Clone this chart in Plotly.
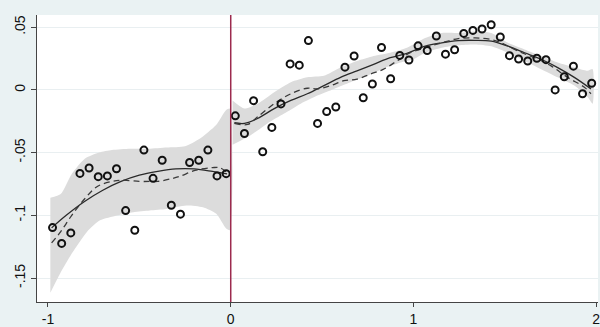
import plotly.graph_objects as go

# Binned means, left of the cutoff
left_x = [-0.975, -0.925, -0.875, -0.825, -0.775, -0.725, -0.675, -0.625, -0.575, -0.525,
          -0.475, -0.425, -0.375, -0.325, -0.275, -0.225, -0.175, -0.125, -0.075, -0.025]
left_y = [-0.1098, -0.1224, -0.1140, -0.0666, -0.0623, -0.0692, -0.0686, -0.0629, -0.0962, -0.1119,
          -0.0480, -0.0705, -0.0561, -0.0920, -0.0991, -0.0579, -0.0561, -0.0480, -0.0686, -0.0668]

# Binned means, right of the cutoff
right_x = [0.025, 0.075, 0.125, 0.175, 0.225, 0.275, 0.325, 0.375, 0.425, 0.475,
           0.525, 0.575, 0.625, 0.675, 0.725, 0.775, 0.825, 0.875, 0.925, 0.975,
           1.025, 1.075, 1.125, 1.175, 1.225, 1.275, 1.325, 1.375, 1.425, 1.475,
           1.525, 1.575, 1.625, 1.675, 1.725, 1.775, 1.825, 1.875, 1.925, 1.975]
right_y = [-0.0207, -0.0348, -0.0086, -0.0493, -0.0299, -0.0112, 0.0207, 0.0197, 0.0393, -0.0267,
           -0.0173, -0.0136, 0.0181, 0.0270, -0.0063, 0.0047, 0.0338, 0.0089, 0.0275, 0.0238,
           0.0351, 0.0314, 0.0430, 0.0285, 0.0320, 0.0450, 0.0474, 0.0485, 0.0519, 0.0422,
           0.0273, 0.0246, 0.0230, 0.0252, 0.0241, 0.0000, 0.0105, 0.0189, -0.0031, 0.0053]

# Polynomial fit (solid)
poly_left_x = [-0.98, -0.9, -0.8, -0.7, -0.6, -0.5, -0.4, -0.3, -0.2, -0.1, -0.02]
poly_left_y = [-0.110, -0.100, -0.089, -0.080, -0.073, -0.068, -0.065, -0.063, -0.063, -0.065, -0.067]
poly_right_x = [0.02, 0.075, 0.147, 0.238, 0.329, 0.419, 0.510, 0.601, 0.691, 0.782, 0.873, 0.964,
                1.064, 1.154, 1.245, 1.336, 1.426, 1.517, 1.608, 1.698, 1.789, 1.880, 1.971]
poly_right_y = [-0.0262, -0.0267, -0.0228, -0.0149, -0.0084, -0.0031, 0.0034, 0.0100, 0.0152, 0.0204,
                0.0257, 0.0291, 0.0348, 0.0375, 0.0393, 0.0395, 0.0388, 0.0348, 0.0296, 0.0244,
                0.0178, 0.0100, 0.0008]

# Local fit (dashed)
local_left_x = [-0.98, -0.93, -0.87, -0.8, -0.73, -0.65, -0.59, -0.5, -0.44, -0.4, -0.33, -0.28,
                -0.19, -0.1, -0.06, -0.02]
local_left_y = [-0.122, -0.113, -0.100, -0.087, -0.077, -0.073, -0.072, -0.073, -0.073, -0.073,
                -0.071, -0.069, -0.064, -0.062, -0.062, -0.066]
local_right_x = [0.02, 0.093, 0.147, 0.238, 0.329, 0.419, 0.474, 0.547, 0.619, 0.691, 0.764, 0.837,
                 0.909, 0.982, 1.064, 1.154, 1.245, 1.336, 1.426, 1.481, 1.572, 1.662, 1.753,
                 1.843, 1.935, 1.971]
local_right_y = [-0.0267, -0.0275, -0.0215, -0.0110, -0.0031, 0.0013, 0.0008, 0.0034, 0.0073, 0.0086,
                 0.0126, 0.0165, 0.0230, 0.0296, 0.0336, 0.0375, 0.0409, 0.0414, 0.0401, 0.0375,
                 0.0309, 0.0257, 0.0191, 0.0100, 0.0021, -0.0031]

# Confidence band, left
ci_left_up_x = [-0.987, -0.93, -0.87, -0.80, -0.72, -0.65, -0.55, -0.45, -0.35, -0.25, -0.17,
                -0.08, -0.025, -0.005]
ci_left_up_y = [-0.086, -0.083, -0.067, -0.055, -0.050, -0.048, -0.047, -0.047, -0.046, -0.045,
                -0.039, -0.028, -0.016, -0.015]
ci_left_lo_x = [-0.987, -0.932, -0.869, -0.787, -0.715, -0.624, -0.533, -0.443, -0.352, -0.243,
                -0.152, -0.079, -0.025, -0.005]
ci_left_lo_y = [-0.1617, -0.1460, -0.1303, -0.1132, -0.1040, -0.1001, -0.0975, -0.0961, -0.0949,
                -0.0922, -0.0936, -0.0988, -0.1106, -0.1119]

# Confidence band, right
ci_right_up_x = [0.010, 0.075, 0.147, 0.238, 0.329, 0.419, 0.510, 0.601, 0.691, 0.782, 0.873, 0.964,
                 1.064, 1.154, 1.245, 1.336, 1.426, 1.517, 1.608, 1.698, 1.789, 1.880, 1.953, 1.980]
ci_right_up_y = [-0.0084, -0.0149, -0.0110, -0.0018, 0.0061, 0.0100, 0.0112, 0.0178, 0.0230, 0.0270,
                 0.0296, 0.0336, 0.0414, 0.0454, 0.0454, 0.0466, 0.0454, 0.0375, 0.0322, 0.0270,
                 0.0218, 0.0178, 0.0152, 0.0165]
ci_right_lo_x = [0.010, 0.111, 0.201, 0.292, 0.383, 0.474, 0.565, 0.655, 0.746, 0.837, 0.928, 1.000,
                 1.064, 1.154, 1.245, 1.336, 1.426, 1.517, 1.608, 1.698, 1.789, 1.880, 1.953, 1.980]
ci_right_lo_y = [-0.0438, -0.0359, -0.0267, -0.0189, -0.0110, -0.0045, 0.0008, 0.0061, 0.0112, 0.0171,
                 0.0218, 0.0244, 0.0296, 0.0336, 0.0356, 0.0362, 0.0348, 0.0296, 0.0230, 0.0165,
                 0.0100, 0.0034, -0.0057, -0.0110]

x_ticks = [-1, 0, 1, 2]
x_tick_text = ["-1", "0", "1", "2"]
y_ticks = [0.05, 0, -0.05, -0.1, -0.15]
y_tick_text = [".05", "0", "-.05", "-.1", "-.15"]
cutoff = 0

BAND = "#dcdcdc"
INK = "#111111"

fig = go.Figure()


def band(xu, yu, xl, yl):
    fig.add_trace(go.Scatter(
        x=list(xu) + list(reversed(xl)),
        y=list(yu) + list(reversed(yl)),
        fill="toself", fillcolor=BAND, mode="lines",
        line=dict(width=0, color=BAND, shape="spline", smoothing=0.6),
        hoverinfo="skip", showlegend=False))


band(ci_left_up_x, ci_left_up_y, ci_left_lo_x, ci_left_lo_y)
band(ci_right_up_x, ci_right_up_y, ci_right_lo_x, ci_right_lo_y)

for xs, ys in [(poly_left_x, poly_left_y), (poly_right_x, poly_right_y)]:
    fig.add_trace(go.Scatter(x=xs, y=ys, mode="lines",
                             line=dict(color="#2a2a2a", width=1.3, shape="spline"),
                             showlegend=False))

for xs, ys in [(local_left_x, local_left_y), (local_right_x, local_right_y)]:
    fig.add_trace(go.Scatter(x=xs, y=ys, mode="lines",
                             line=dict(color="#3a3a3a", width=1.3, shape="spline", dash="6px,4px"),
                             showlegend=False))

for xs, ys in [(left_x, left_y), (right_x, right_y)]:
    fig.add_trace(go.Scatter(x=xs, y=ys, mode="markers",
                             marker=dict(symbol="circle-open", size=7, color=INK,
                                         line=dict(width=2, color=INK)),
                             showlegend=False))

fig.add_shape(type="line", x0=cutoff, x1=cutoff, xref="x", y0=0, y1=1, yref="paper",
              line=dict(color="#9c2a4e", width=1.5))

fig.update_layout(
    width=600, height=327,
    margin=dict(l=37, r=0, t=15, b=21, pad=0),
    paper_bgcolor="#eaf2f3",
    plot_bgcolor="#ffffff",
    font=dict(family="Liberation Sans, Arial, sans-serif", size=14, color=INK),
    xaxis=dict(range=[-1.060, 2.0095], tickvals=x_ticks, ticktext=x_tick_text,
               ticklabeloverflow="allow",
               showgrid=False, zeroline=False, showline=True, linecolor="#444444", linewidth=1,
               ticks="outside", ticklen=4, tickcolor="#444444", tickwidth=1),
    yaxis=dict(range=[-0.1691, 0.0597], tickvals=y_ticks, ticktext=y_tick_text,
               tickangle=-90, showgrid=True, gridcolor="#e9eff1", gridwidth=1,
               zeroline=False, showline=True, linecolor="#444444", linewidth=1,
               ticks="outside", ticklen=5, tickcolor="#444444", tickwidth=1),
)

fig.write_html("out.html")
